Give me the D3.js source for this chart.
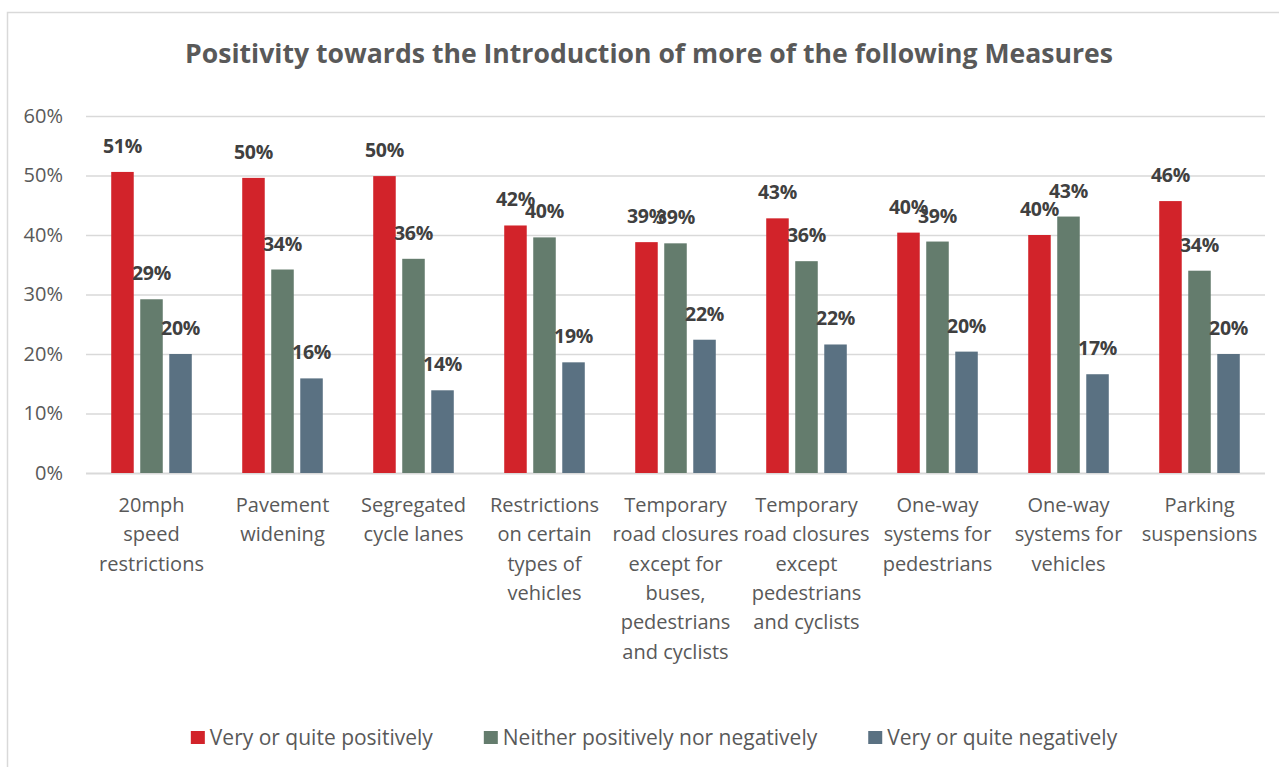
<!DOCTYPE html>
<html>
<head>
<meta charset="utf-8">
<script src="https://cdn.jsdelivr.net/npm/d3@7"></script>
<style>
  body { margin: 0; background: #fff; }
  svg { display: block; font-family: "Open Sans", sans-serif; }
</style>
</head>
<body>
<div id="chart"></div>
<script>
var svgWidth = 1279;
var svgHeight = 767;

// data (percent)
var categories = [
  ["20mph", "speed", "restrictions"],
  ["Pavement", "widening"],
  ["Segregated", "cycle lanes"],
  ["Restrictions", "on certain", "types of", "vehicles"],
  ["Temporary", "road closures", "except for", "buses,", "pedestrians", "and cyclists"],
  ["Temporary", "road closures", "except", "pedestrians", "and cyclists"],
  ["One-way", "systems for", "pedestrians"],
  ["One-way", "systems for", "vehicles"],
  ["Parking", "suspensions"]
];
var seriesNames = ["Very or quite positively", "Neither positively nor negatively", "Very or quite negatively"];
var positive = [50.6, 49.6, 49.9, 41.6, 38.8, 42.8, 40.4, 40.0, 45.7];
var neutral = [29.2, 34.2, 36.0, 39.6, 38.6, 35.6, 38.9, 43.1, 34.0];
var negative = [20.0, 15.9, 13.9, 18.6, 22.4, 21.6, 20.4, 16.6, 20.0];
var yTicks = [0, 10, 20, 30, 40, 50, 60];

var colors = ["#d2232a", "#647c6d", "#5a7182"];
var series = [positive, neutral, negative];

var margin = { top: 116, right: 14, bottom: 294, left: 86 };
var width = svgWidth - margin.left - margin.right;
var height = svgHeight - margin.top - margin.bottom;

var svg = d3.select("#chart")
  .append("svg")
  .attr("width", svgWidth)
  .attr("height", svgHeight);

// chart border
svg.append("rect")
  .attr("x", 7.5)
  .attr("y", 12.5)
  .attr("width", svgWidth)
  .attr("height", svgHeight)
  .attr("fill", "none")
  .attr("stroke", "#d9d9d9")
  .attr("stroke-width", 1.5);

svg.append("text")
  .attr("x", 649)
  .attr("y", 63)
  .attr("text-anchor", "middle")
  .attr("font-size", 26.6)
  .attr("font-weight", "bold")
  .attr("fill", "#595959")
  .text("Positivity towards the Introduction of more of the following Measures");

var chartGroup = svg.append("g")
  .attr("transform", `translate(${margin.left}, ${margin.top})`);

var catIndex = d3.range(categories.length);

var x0 = d3.scaleBand()
  .domain(catIndex)
  .range([0, width])
  .paddingInner(0.385)
  .paddingOuter(0.1925);

var x1 = d3.scaleBand()
  .domain(d3.range(series.length))
  .range([0, x0.bandwidth()])
  .paddingInner(0.224);

var y = d3.scaleLinear()
  .domain([0, 60])
  .range([height, 0]);

// gridlines + y labels
var yAxis = chartGroup.append("g")
  .call(d3.axisLeft(y).tickValues(yTicks).tickSize(-width).tickFormat(d => d + "%").tickPadding(23));
yAxis.select(".domain").remove();
yAxis.selectAll(".tick line")
  .attr("stroke", "#d9d9d9")
  .attr("stroke-width", d => d === 0 ? 2 : 1.5);
yAxis.selectAll(".tick text")
  .attr("font-size", 20)
  .attr("font-family", "Open Sans, sans-serif")
  .attr("fill", "#595959");

// category labels
var xAxis = chartGroup.append("g")
  .attr("transform", `translate(0, ${height})`)
  .call(d3.axisBottom(x0).tickSize(0).tickFormat(""));
xAxis.select(".domain").remove();
xAxis.selectAll(".tick").each(function(i) {
  var t = d3.select(this).append("text")
    .attr("text-anchor", "middle")
    .attr("font-size", 20)
    .attr("font-family", "Open Sans, sans-serif")
    .attr("fill", "#595959");
  categories[i].forEach(function(line, k) {
    t.append("tspan")
      .attr("x", 0)
      .attr("y", 39 + k * 29.3)
      .text(line);
  });
});

// bars
var groups = chartGroup.selectAll(".group")
  .data(catIndex)
  .enter()
  .append("g")
  .attr("class", "group")
  .attr("transform", d => `translate(${x0(d)}, 0)`);

series.forEach(function(vals, s) {
  groups.append("rect")
    .attr("x", x1(s))
    .attr("y", d => y(vals[d]))
    .attr("width", x1.bandwidth())
    .attr("height", d => height - y(vals[d]))
    .attr("fill", colors[s]);
});

series.forEach(function(vals, s) {
  groups.append("text")
    .attr("x", x1(s) + x1.bandwidth() / 2)
    .attr("y", d => y(vals[d]) - 19)
    .attr("text-anchor", "middle")
    .attr("font-size", 19.5)
    .attr("font-weight", "bold")
    .attr("letter-spacing", -0.3)
    .attr("fill", "#404040")
    .text(d => Math.round(vals[d]) + "%");
});

// legend
var legend = svg.append("g");
var lx = 0;
seriesNames.forEach(function(name, s) {
  var item = legend.append("g").attr("transform", `translate(${lx}, 0)`);
  item.append("rect")
    .attr("x", 0)
    .attr("y", 731)
    .attr("width", 14)
    .attr("height", 13)
    .attr("fill", colors[s]);
  var t = item.append("text")
    .attr("x", 19)
    .attr("y", 745)
    .attr("font-size", 21)
    .attr("fill", "#595959")
    .text(name);
  lx += 19 + t.node().getComputedTextLength() + 51;
});
var legendWidth = lx - 51;
legend.attr("transform", `translate(${654 - legendWidth / 2}, 0)`);
</script>
</body>
</html>
